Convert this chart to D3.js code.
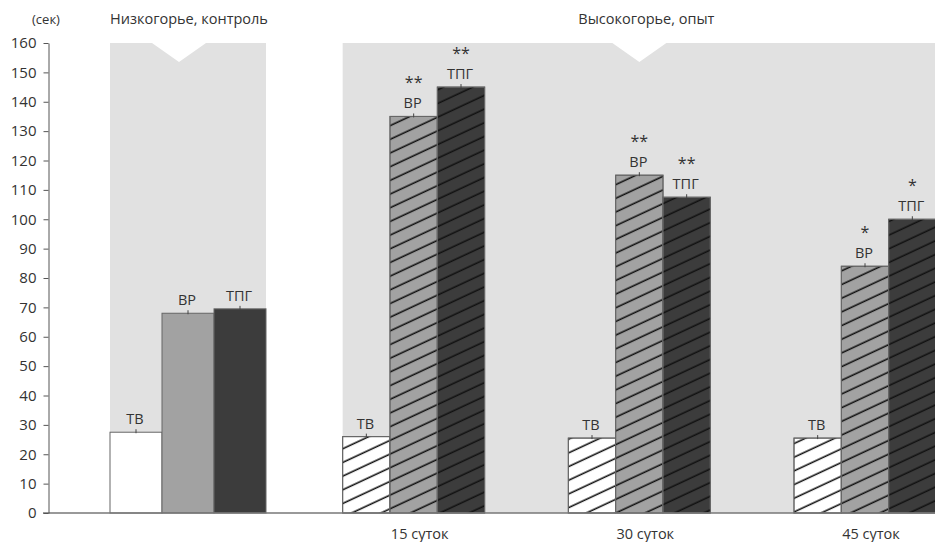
<!DOCTYPE html>
<html>
<head>
<meta charset="utf-8">
<script src="https://cdn.jsdelivr.net/npm/d3@7"></script>
<style>
  body { margin: 0; background: #fff; }
  text { font-family: "Open Sans", sans-serif; fill: #333; }
</style>
</head>
<body>
<div id="chart"></div>
<script>
// data
var groups = ["control", "15", "30", "45"];
var groupLabels = ["", "15 суток", "30 суток", "45 суток"];
var panelTitles = ["Низкогорье, контроль", "Высокогорье, опыт"];
var series = ["ТВ", "ВР", "ТПГ"];
var valuesControl = [27.5, 68, 69.5];
var values15 = [26, 135, 145];
var values30 = [25.5, 115, 107.5];
var values45 = [25.5, 84, 100];
var stars15 = ["", "**", "**"];
var stars30 = ["", "**", "**"];
var stars45 = ["", "*", "*"];
var yTicks = [0, 10, 20, 30, 40, 50, 60, 70, 80, 90, 100, 110, 120, 130, 140, 150, 160];

var allValues = [valuesControl, values15, values30, values45];
var allStars = [["", "", ""], stars15, stars30, stars45];

var width = 935, height = 542;
var colors = ["#ffffff", "#a2a2a2", "#3c3c3c"];

var svg = d3.select("#chart").append("svg")
  .attr("width", width).attr("height", height);

// hatch pattern for the experiment bars
svg.append("defs").append("pattern")
    .attr("id", "hatch")
    .attr("patternUnits", "userSpaceOnUse")
    .attr("width", 20).attr("height", 12.4)
    .attr("patternTransform", "rotate(-25)")
  .append("line")
    .attr("x1", 0).attr("x2", 20).attr("y1", 6).attr("y2", 6)
    .attr("stroke", "#111").attr("stroke-width", 1.6);

var y = d3.scaleLinear().domain([0, 160]).range([513, 43]);

// group centres
var x = d3.scalePoint().domain(groups).range([188, 865]);
function groupWidth(g) { return g === "control" ? 156 : 142; }
function inner(g) {
  var w = groupWidth(g);
  return d3.scaleBand().domain(series).range([-w / 2, w / 2]);
}
function left(g) { return x(g) - groupWidth(g) / 2; }
function right(g) { return x(g) + groupWidth(g) / 2; }

// grey panels with notch at the top
function panel(x0, x1, notchC) {
  var t = y(160), nw = 27, nd = 19, b = y(0);
  return "M" + x0 + "," + b + "L" + x0 + "," + t +
    "L" + (notchC - nw) + "," + t + "L" + notchC + "," + (t + nd) +
    "L" + (notchC + nw) + "," + t + "L" + x1 + "," + t +
    "L" + x1 + "," + b + "Z";
}
var pL0 = left("control"), pL1 = right("control");
var pR0 = left("15"), pR1 = right("45");
svg.append("path").attr("d", panel(pL0, pL1, (pL0 + pL1) / 2 - 9)).attr("fill", "#e1e1e1");
svg.append("path").attr("d", panel(pR0, pR1, (pR0 + pR1) / 2)).attr("fill", "#e1e1e1");

// panel titles
svg.append("text").attr("x", (pL0 + pL1) / 2 + 1).attr("y", 24)
  .attr("text-anchor", "middle").style("font-size", "14.5px").text(panelTitles[0]);
svg.append("text").attr("x", (pR0 + pR1) / 2 + 7).attr("y", 24)
  .attr("text-anchor", "middle").style("font-size", "14.5px").text(panelTitles[1]);
svg.append("text").attr("x", 46).attr("y", 24)
  .attr("text-anchor", "middle").style("font-size", "13px").text("(сек)");

// bars
var bars = [];
groups.forEach(function(g, gi) {
  series.forEach(function(s, si) {
    bars.push({ g: g, gi: gi, s: s, si: si, v: allValues[gi][si], star: allStars[gi][si] });
  });
});

var bar = svg.selectAll(".bar").data(bars).enter().append("g").attr("class", "bar");

bar.append("rect")
  .attr("x", function(d) { return x(d.g) + inner(d.g)(d.s); })
  .attr("y", function(d) { return y(d.v); })
  .attr("width", function(d) { return inner(d.g).bandwidth(); })
  .attr("height", function(d) { return y(0) - y(d.v); })
  .attr("fill", function(d) { return colors[d.si]; })
  .attr("stroke", "#666").attr("stroke-width", 1);

bar.filter(function(d) { return d.g !== "control"; }).append("rect")
  .attr("x", function(d) { return x(d.g) + inner(d.g)(d.s); })
  .attr("y", function(d) { return y(d.v); })
  .attr("width", function(d) { return inner(d.g).bandwidth(); })
  .attr("height", function(d) { return y(0) - y(d.v); })
  .attr("fill", "url(#hatch)")
  .attr("stroke", "#666").attr("stroke-width", 1);

// small error marks
bar.append("line")
  .attr("x1", function(d) { return x(d.g) + inner(d.g)(d.s) + inner(d.g).bandwidth() / 2; })
  .attr("x2", function(d) { return x(d.g) + inner(d.g)(d.s) + inner(d.g).bandwidth() / 2; })
  .attr("y1", function(d) { return y(d.v) - 3; })
  .attr("y2", function(d) { return y(d.v) + 1; })
  .attr("stroke", "#444").attr("stroke-width", 1);

bar.append("text")
  .attr("x", function(d) { return x(d.g) + inner(d.g)(d.s) + inner(d.g).bandwidth() / 2 - 1; })
  .attr("y", function(d) { return y(d.v) - 8; })
  .attr("text-anchor", "middle").style("font-size", "14.5px")
  .text(function(d) { return d.s; });

bar.append("text")
  .attr("x", function(d) { return x(d.g) + inner(d.g)(d.s) + inner(d.g).bandwidth() / 2; })
  .attr("y", function(d) { return y(d.v) - 28.5; })
  .attr("text-anchor", "middle").style("font-size", "16px")
  .text(function(d) { return d.star; });

// group labels under the axis
svg.selectAll(".glabel").data(groups).enter().append("text")
  .attr("class", "glabel")
  .attr("x", function(g) { return x(g) + 6; })
  .attr("y", 539)
  .attr("text-anchor", "middle").style("font-size", "14.5px")
  .text(function(g, i) { return groupLabels[i]; });

// baseline
svg.append("line")
  .attr("x1", 43).attr("x2", width).attr("y1", y(0)).attr("y2", y(0))
  .attr("stroke", "#777").attr("stroke-width", 1.5);

// y axis
var yAxis = svg.append("g")
  .attr("transform", "translate(48.5,0)")
  .call(d3.axisLeft(y).tickValues(yTicks).tickSize(5).tickSizeOuter(0).tickPadding(7));
yAxis.select(".domain").attr("stroke", "#555");
yAxis.selectAll(".tick line").attr("stroke", "#555");
yAxis.selectAll(".tick text").style("font-family", "Open Sans, sans-serif")
  .style("font-size", "15px").attr("fill", "#333");
</script>
</body>
</html>
